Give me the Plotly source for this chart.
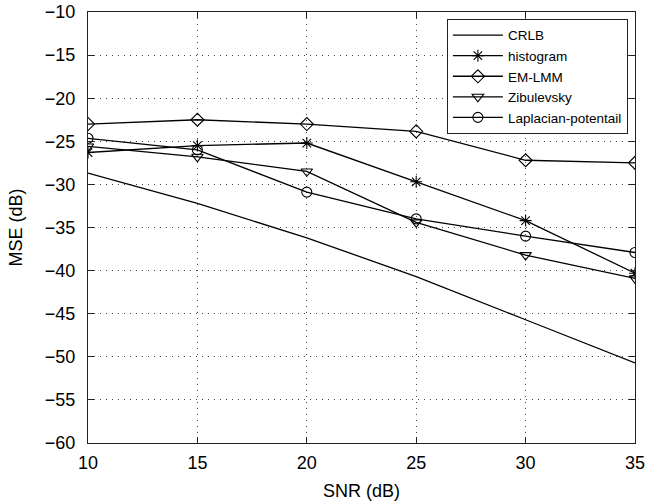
import plotly.graph_objects as go

snr = [10, 15, 20, 25, 30, 35]
crlb = [-28.7, -32.2, -36.2, -40.7, -45.7, -50.7]
histogram = [-26.3, -25.5, -25.2, -29.7, -34.2, -40.3]
em_lmm = [-23.0, -22.5, -23.0, -23.85, -27.2, -27.5]
zibulevsky = [-25.6, -26.8, -28.5, -34.4, -38.2, -40.9]
laplacian = [-24.65, -26.0, -30.9, -34.0, -36.0, -37.9]

x_ticks = [10, 15, 20, 25, 30, 35]
y_ticks = [-10, -15, -20, -25, -30, -35, -40, -45, -50, -55, -60]

series = [
    ("CRLB", crlb, None),
    ("histogram", histogram, "asterisk-open"),
    ("EM-LMM", em_lmm, "diamond-open"),
    ("Zibulevsky", zibulevsky, "triangle-down-open"),
    ("Laplacian-potentail", laplacian, "circle-open"),
]

FONT = "Liberation Sans, Arial, Helvetica"

fig = go.Figure()
for name, vals, sym in series:
    if sym is None:
        fig.add_trace(go.Scatter(x=snr, y=vals, name=name, mode="lines",
                                 line=dict(color="black", width=1.3)))
    else:
        fig.add_trace(go.Scatter(x=snr, y=vals, name=name, mode="lines+markers",
                                 line=dict(color="black", width=1.3),
                                 marker=dict(symbol=sym, size=10, color="black",
                                             line=dict(color="black", width=1.1))))

axis_common = dict(
    showline=True, linecolor="#222", linewidth=1.2, mirror="ticks",
    ticks="inside", ticklen=6, tickcolor="#222",
    showgrid=True, gridcolor="#444", griddash="1px,5px", gridwidth=1,
    zeroline=False, automargin=False, ticklabeloverflow="allow",
    tickfont=dict(family=FONT, size=18, color="black"),
)

fig.update_xaxes(range=[10, 35], tickvals=x_ticks, **axis_common,
                 ticklabelstandoff=3,
                 title=dict(text="SNR (dB)", standoff=12,
                            font=dict(family=FONT, size=18, color="black")))
fig.update_yaxes(range=[-60, -10], tickvals=y_ticks,
                 ticktext=[f"\u2212{abs(v)}" for v in y_ticks], **axis_common,
                 ticklabelstandoff=8,
                 title=dict(text="MSE (dB)", standoff=17,
                            font=dict(family=FONT, size=18, color="black")))

fig.update_layout(
    width=651, height=504,
    margin=dict(l=88, r=16, t=12, b=61),
    plot_bgcolor="white", paper_bgcolor="white",
    font=dict(family=FONT, color="black"),
    legend=dict(x=0.987, y=0.984, xanchor="right", yanchor="top",
                bgcolor="white", bordercolor="#222", borderwidth=1,
                font=dict(family=FONT, size=13.5, color="black"),
                tracegroupgap=0, itemwidth=50),
    showlegend=True,
)

fig.write_html("out.html",
               config={"displayModeBar": False},
               post_script="document.body.style.margin='0';document.body.style.overflow='hidden';")
